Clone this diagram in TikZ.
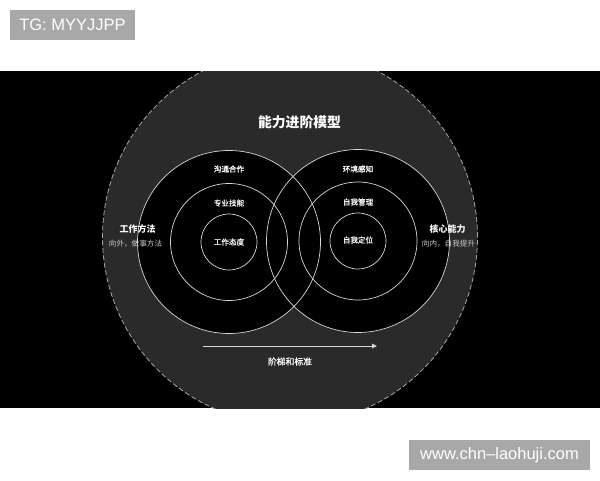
\documentclass[tikz,border=0pt]{standalone}
\usepackage{fontspec}
\setmainfont{Liberation Sans}
\newfontfamily\cjk{Noto Sans CJK SC}
\newfontfamily\cjksemi[FakeBold=0.6]{Noto Sans CJK SC}
\usetikzlibrary{arrows.meta}
\definecolor{bigfill}{HTML}{2A2A2A}
\definecolor{ringline}{HTML}{D8D8D8}
\definecolor{wmgray}{HTML}{A8A8A8}
\definecolor{subgray}{HTML}{C8C8C8}
\tikzset{
  ring/.style={draw=ringline, line width=0.7pt},
  ringlabel/.style={text=white, font=\cjksemi\fontsize{7.6}{9}\selectfont, inner sep=0pt},
  sidehead/.style={text=white, font=\cjk\bfseries\fontsize{9}{11}\selectfont, inner sep=0pt},
  sidesub/.style={text=subgray, font=\cjk\fontsize{7.6}{9}\selectfont, inner sep=0pt},
  wmbox/.style={fill=wmgray, text=white, font=\fontsize{16.5}{19}\selectfont, inner sep=0pt, anchor=center}
}
\begin{document}
\begin{tikzpicture}[x=1pt,y=-1pt]
\useasboundingbox (0,0) rectangle (600,480);
\fill[white] (0,0) rectangle (600,480);
% black band
\fill[black] (0,71) rectangle (600,408);
% big circle clipped to band
\begin{scope}
  \clip (0,71) rectangle (600,408);
  \fill[bigfill] (290,237) circle[radius=187.5pt];
  \draw[gray!70, line width=0.8pt, dash pattern=on 5pt off 2.5pt] (290,237) circle[radius=187.5pt];
\end{scope}
% ring fills
\fill[black] (229,242) circle[radius=91.5pt];
\fill[black] (358,241) circle[radius=91.5pt];
% rings
\draw[ring] (229,242) circle[radius=91.5pt];
\draw[ring] (229,242) circle[radius=58.5pt];
\draw[ring] (229,242) circle[radius=28pt];
\draw[ring] (358,241) circle[radius=91.5pt];
\draw[ring] (358,241) circle[radius=59pt];
\draw[ring] (358,241) circle[radius=28pt];
% title
\node[text=white, font=\cjk\bfseries\fontsize{13.8}{16}\selectfont, inner sep=0pt] (title) at (299.5,122) {能力进阶模型};
% left labels
\node[ringlabel] (l1) at (229,169) {沟通合作};
\node[ringlabel] (l2) at (229,203) {专业技能};
\node[ringlabel] (l3) at (229,242) {工作态度};
\node[sidehead] (lh) at (137.5,229) {工作方法};
\node[sidesub] (ls) at (135.5,243.5) {向外，做事方法};
% right labels
\node[ringlabel] (r1) at (358,169) {环境感知};
\node[ringlabel] (r2) at (358,202) {自我管理};
\node[ringlabel] (r3) at (358,240) {自我定位};
\node[sidehead] (rh) at (447.5,229) {核心能力};
\node[sidesub] (rs) at (448.5,243.5) {向内，自我提升};
% arrow
\coordinate (arrS) at (203,346);
\coordinate (arrE) at (377,346);
\draw[ringline, line width=1pt, -{Triangle[length=5pt,width=4.5pt]}] (arrS) -- (arrE);
\node[text=white, font=\cjksemi\fontsize{8.8}{10}\selectfont, inner sep=0pt] (ladder) at (290,361.5) {阶梯和标准};
% watermarks
\node[wmbox, minimum width=125pt, minimum height=30pt] (wm1) at (72.5,25) {TG: MYYJJPP};
\node[wmbox, minimum width=181pt, minimum height=30pt] (wm2) at (499.5,455) {www.chn{\textendash}laohuji.com};
\end{tikzpicture}
\end{document}
